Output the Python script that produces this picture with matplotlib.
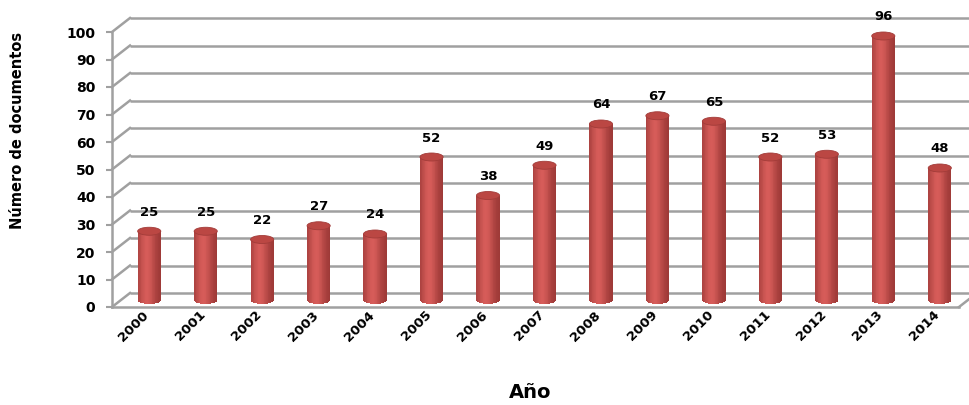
import numpy as np
import matplotlib
matplotlib.use("Agg")
import matplotlib.pyplot as plt
from matplotlib.patches import Ellipse
from matplotlib.transforms import ScaledTranslation
from matplotlib.colors import to_rgb

# ---- data ----
years = ["2000", "2001", "2002", "2003", "2004", "2005", "2006", "2007",
         "2008", "2009", "2010", "2011", "2012", "2013", "2014"]
docs = [25, 25, 22, 27, 24, 52, 38, 49, 64, 67, 65, 52, 53, 96, 48]
yticks = list(range(0, 101, 10))
ylabel = "Número de documentos"
xlabel = "Año"

plt.rcParams['font.family'] = ['DejaVu Sans']

W, H = 969, 405
fig = plt.figure(figsize=(W / 100, H / 100), dpi=100)
left_px, right_px, top_px, bot_px = 112, 959, 32, 307
ax = fig.add_axes([left_px / W, 1 - bot_px / H, (right_px - left_px) / W,
                   (bot_px - top_px) / H])
n = len(years)
x = np.arange(n)
ax.set_xlim(-0.5, n - 0.5)
ax.set_ylim(0, 100)
for s in ax.spines.values():
    s.set_visible(False)

# pixel -> data conversion for the depth offset
px_per_x = (right_px - left_px) / n
px_per_y = (bot_px - top_px) / 100
back_dx, back_dy = 18 / px_per_x, 14 / px_per_y

grid_c = '#a0a0a0'
# back wall gridlines + side diagonals
for k in yticks:
    ax.plot([-0.5 + back_dx, n + 1], [k + back_dy, k + back_dy], color=grid_c,
            lw=1.8, clip_on=False, zorder=1, solid_capstyle='butt')
    ax.plot([-0.5, -0.5 + back_dx], [k, k + back_dy], color=grid_c, lw=1.8,
            clip_on=False, zorder=1)
# front axis line and floor
ax.plot([-0.5, -0.5], [0, 100], color=grid_c, lw=1.8, clip_on=False, zorder=1)
ax.plot([-0.5, n - 0.5], [0, 0], color=grid_c, lw=1.8, clip_on=False, zorder=1)
ax.plot([n - 0.5, n - 0.5 + back_dx], [0, back_dy], color=grid_c, lw=1.8,
        clip_on=False, zorder=1)

# cylinders on the middle depth plane
mid = ScaledTranslation(0.09, 0.07, fig.dpi_scale_trans)
tr = ax.transData + mid
bw = 0.41
ell_h = 8 / px_per_y
dark = np.array(to_rgb('#9a3735'))
light = np.array(to_rgb('#d65c59'))
nstrip = 30
edges = np.linspace(-bw / 2, bw / 2, nstrip + 1)
for i, v in enumerate(docs):
    for j in range(nstrip):
        t = (j + 0.5) / nstrip
        s = np.exp(-((t - 0.4) / 0.36) ** 2)
        c = dark + (light - dark) * s
        u = (edges[j] + edges[j + 1]) / 2
        b = -ell_h / 2 * np.sqrt(max(0.0, 1 - (2 * u / bw) ** 2))
        ax.bar(x[i] + u, v - b, bottom=b,
               width=(edges[j + 1] - edges[j]) * 1.08, color=c,
               transform=tr, zorder=4, clip_on=False, linewidth=0)
    ax.add_patch(Ellipse((x[i], v), bw, ell_h, transform=tr,
                         color='#bb4743', ec='#a23c39', lw=0.6, zorder=5,
                         clip_on=False))
    ax.text(x[i], v, str(v), transform=tr + ScaledTranslation(0, 0.19, fig.dpi_scale_trans),
            ha='center', va='center', fontsize=9.5, fontweight='bold',
            zorder=6)

# ticks
ax.set_yticks(yticks)
ax.set_yticklabels([str(t) for t in yticks], fontsize=10, fontweight='bold')
ax.tick_params(axis='y', length=4, width=1.5, color=grid_c, pad=8)
ax.set_xticks(x)
ax.set_xticklabels(years, rotation=45, ha='right', va='top',
                   rotation_mode='anchor', fontsize=9.5, fontweight='bold')
ax.tick_params(axis='x', length=0, pad=1)
for lab in ax.get_xticklabels():
    lab.set_transform(lab.get_transform() + ScaledTranslation(0.02, 0, fig.dpi_scale_trans))

fig.text(18 / W, 1 - 130 / H, ylabel, rotation=90, ha='center', va='center',
         fontsize=10.5, fontweight='bold')
fig.text(530 / W, 1 - 393 / H, xlabel, ha='center', va='center',
         fontsize=14, fontweight='bold')

fig.savefig('out.png', dpi=100)
